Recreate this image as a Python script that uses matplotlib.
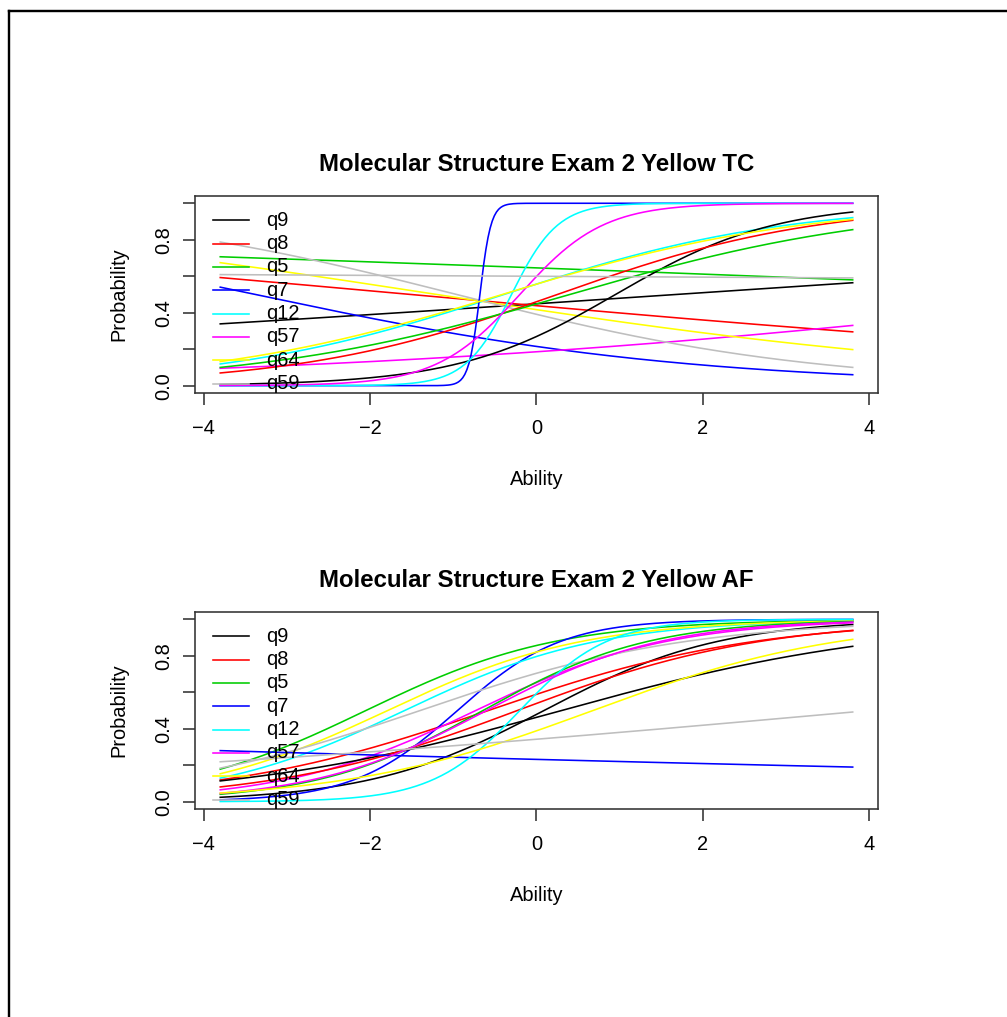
import numpy as np
import matplotlib
matplotlib.use("Agg")
import matplotlib.pyplot as plt
from matplotlib.lines import Line2D

plt.rcParams['font.family'] = ['Liberation Sans', 'DejaVu Sans']

# R default palette (col = 1:8, recycled)
curve_colors = ["#000000", "#FF0000", "#00CD00", "#0000FF",
                "#00FFFF", "#FF00FF", "#FFFF00", "#BEBEBE"]
legend_labels = ["q9", "q8", "q5", "q7", "q12", "q57", "q64", "q59"]

# item parameters (discrimination a, difficulty b)
tc_a = [0.122, -0.164, -0.0733, -0.383, 0.587, 0.203, -0.28, -0.461,
        1.05, 0.64, 0.523, 15.0, 3.6, 2.0, 0.555, -0.01]
tc_b = [1.68, -1.51, 8.2, -3.38, -0.39, 7.28, -1.2, -0.96,
        0.95, 0.25, 0.4, -0.68, -0.3, -0.2, -0.41, 40.5]

af_a = [0.95, 0.62, 0.872, 1.6, 0.86, 0.867, 0.85, 0.62,
        0.5, 0.68, 1.0, -0.0666, 1.9, 0.95, 0.67, 0.163]
af_b = [0.09, -0.58, -2.05, -0.95, -1.585, -0.73, -1.79, -1.4,
        0.3, -0.23, -0.645, -17.97, -0.2, -0.6, 0.676, 4.0]

titles = ["Molecular Structure Exam 2 Yellow TC",
          "Molecular Structure Exam 2 Yellow AF"]

theta = np.linspace(-3.8, 3.8, 301)

fig = plt.figure(figsize=(1007 / 144, 1017 / 144), dpi=144)
ax_top = fig.add_axes([0.1936, 0.6136, 0.6783, 0.1937])
ax_bot = fig.add_axes([0.1936, 0.2045, 0.6783, 0.1937])


def draw_panel(ax, a_vals, b_vals, title):
    for i, (a, b) in enumerate(zip(a_vals, b_vals)):
        p = 1 / (1 + np.exp(-a * (theta - b)))
        ax.plot(theta, p, color=curve_colors[i % 8], lw=0.8)

    # legend like R's legend() with no box, clipped by the plot region
    for i, lab in enumerate(legend_labels):
        y = 0.877 - i * 0.1185
        ax.plot([0.026, 0.079], [y, y], color=curve_colors[i], lw=0.8,
                transform=ax.transAxes, clip_on=True)
        ax.text(0.104, y, lab, transform=ax.transAxes, fontsize=10,
                va="center", ha="left", clip_on=True)

    ax.set_xlim(-4.104, 4.104)
    ax.set_ylim(-0.04, 1.04)
    ax.set_xticks([-4, -2, 0, 2, 4])
    ax.set_xticklabels(["\u22124", "\u22122", "0", "2", "4"])
    ax.set_yticks([0, 0.2, 0.4, 0.6, 0.8, 1.0])
    ax.set_yticklabels(["0.0", "", "0.4", "", "0.8", ""], rotation=90, va="center")
    ax.tick_params(direction="out", length=6, width=0.8, labelsize=10,
                   color="#333333")
    ax.tick_params(axis="x", pad=7)
    ax.tick_params(axis="y", pad=5)
    for s in ax.spines.values():
        s.set_linewidth(0.8)
        s.set_color("#333333")
    ax.set_xlabel("Ability", fontsize=10, labelpad=16)
    ax.set_ylabel("Probability", fontsize=10, labelpad=13)
    ax.set_title(title, fontsize=12, fontweight="bold", pad=12.5)


draw_panel(ax_top, tc_a, tc_b, titles[0])
draw_panel(ax_bot, af_a, af_b, titles[1])

# frame lines on the top and left edge of the picture
fig.add_artist(Line2D([8.5 / 1007, 1], [1 - 10.5 / 1017, 1 - 10.5 / 1017],
                      color="black", lw=1.2, transform=fig.transFigure))
fig.add_artist(Line2D([8.5 / 1007, 8.5 / 1007], [0, 1 - 10.5 / 1017],
                      color="black", lw=1.2, transform=fig.transFigure))

fig.savefig("out.png", dpi=144, facecolor="white")
